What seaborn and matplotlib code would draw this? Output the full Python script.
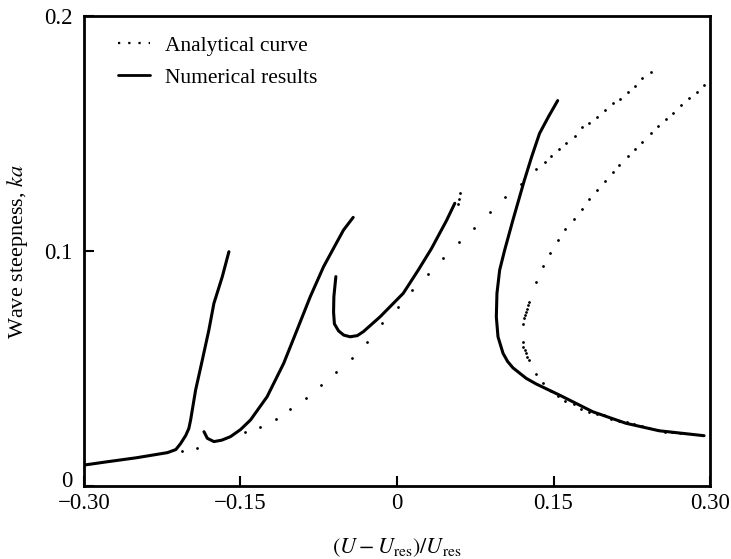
import matplotlib
matplotlib.use("Agg")
import matplotlib.pyplot as plt
import matplotlib.transforms as mtransforms
import seaborn as sns
import pandas as pd
from matplotlib.lines import Line2D

# ---- Numerical results (solid branches) ----
num1_x = [-0.300, -0.278, -0.250, -0.220, -0.212, -0.2075, -0.2025, -0.1995, -0.1978, -0.193, -0.1866, -0.1803,
          -0.1755, -0.1675, -0.1611]
num1_y = [0.0089, 0.0103, 0.0120, 0.0142, 0.0155, 0.0180, 0.0215, 0.0245, 0.0281, 0.0409, 0.0536, 0.0664,
          0.0777, 0.0890, 0.0997]

num2_x = [-0.185, -0.1818, -0.1755, -0.168, -0.1596, -0.150, -0.1404, -0.1245, -0.1086, -0.0958, -0.0831,
          -0.0704, -0.0610, -0.0513, -0.042]
num2_y = [0.0231, 0.0203, 0.0189, 0.0195, 0.0210, 0.0240, 0.0281, 0.0380, 0.0522, 0.0664, 0.0806,
          0.0933, 0.1010, 0.1089, 0.1143]

num3_x = [-0.0586, -0.0605, -0.0608, -0.0600, -0.056, -0.0510, -0.0449, -0.038, -0.0322, -0.0162, 0.006, 0.0204,
          0.033, 0.0475, 0.0554]
num3_y = [0.0891, 0.0806, 0.0740, 0.0690, 0.0660, 0.0642, 0.0635, 0.0640, 0.0657, 0.0720, 0.0820, 0.0919,
          0.1010, 0.1130, 0.1203]

num4_x = [0.154, 0.145, 0.1366, 0.129, 0.122, 0.111, 0.1032, 0.0984, 0.0958, 0.0952, 0.0968, 0.1016, 0.1060,
          0.1111, 0.1239, 0.1335, 0.1557, 0.1876, 0.2194, 0.2513, 0.2943]
num4_y = [0.164, 0.157, 0.150, 0.140, 0.130, 0.113, 0.1004, 0.0919, 0.0820, 0.0720, 0.0635, 0.0565, 0.0530,
          0.0503, 0.0458, 0.0434, 0.0387, 0.0316, 0.0267, 0.0235, 0.0214]

# ---- Analytical curve (dotted) ----
ana1_x = [-0.2057, -0.1914, -0.1459, -0.1316, -0.1159, -0.1022, -0.0869, -0.0729, -0.0583, -0.0433, -0.0284,
          -0.0146, 0.0013, 0.0146, 0.030, 0.0443, 0.0592, 0.0739, 0.0895, 0.1032, 0.1191, 0.1335, 0.1414,
          0.1478, 0.155, 0.162, 0.1707, 0.1774, 0.1844, 0.1914, 0.1994, 0.2067, 0.2137, 0.221, 0.2283,
          0.2353, 0.2433]
ana1_y = [0.0150, 0.0160, 0.0228, 0.0252, 0.0284, 0.0328, 0.0373, 0.0430, 0.0484, 0.0546, 0.0614,
          0.0692, 0.0760, 0.0834, 0.0902, 0.0971, 0.1037, 0.1100, 0.1167, 0.1229, 0.1285, 0.1349, 0.1377,
          0.1406, 0.1434, 0.1460, 0.1490, 0.1526, 0.1546, 0.1571, 0.1600, 0.1629, 0.1648, 0.1678, 0.1704,
          0.1735, 0.1760]

ana_stub_x = [0.058, 0.059, 0.0602]
ana_stub_y = [0.120, 0.122, 0.1248]

ana2_x = [0.271, 0.264, 0.257, 0.2497, 0.2417, 0.2347, 0.2274, 0.220, 0.213, 0.2051, 0.1987, 0.1914, 0.1838,
          0.1765, 0.170, 0.1615, 0.154, 0.148, 0.1398, 0.1328, 0.1261, 0.1248, 0.1239, 0.1223, 0.1207, 0.1207,
          0.1207, 0.1213, 0.1223, 0.1239, 0.1248, 0.1255, 0.1264, 0.1328, 0.1404, 0.1471, 0.1541, 0.1615,
          0.170, 0.1774, 0.1844, 0.1914, 0.1994, 0.2067, 0.2131, 0.221, 0.2283, 0.2353, 0.2433, 0.2506,
          0.2577, 0.265, 0.272, 0.280, 0.2873, 0.2943]
ana2_y = [0.0224, 0.0231, 0.0231, 0.0238, 0.0245, 0.0255, 0.0263, 0.0271, 0.0278, 0.0285, 0.0302, 0.0305, 0.0315,
          0.0328, 0.0349, 0.0363, 0.0384, 0.0406, 0.0440, 0.0477, 0.0536, 0.0550, 0.0565, 0.0579, 0.0590, 0.0614,
          0.0689, 0.0713, 0.0728, 0.0742, 0.0752, 0.0770, 0.0782, 0.0869, 0.0936, 0.0993, 0.1047, 0.1092,
          0.1135, 0.1179, 0.1220, 0.1260, 0.1298, 0.1335, 0.1365, 0.1404, 0.1434, 0.1465, 0.1503, 0.1532,
          0.1560, 0.1589, 0.1620, 0.1652, 0.1675, 0.1706]

x_ticks = [-0.30, -0.15, 0.0, 0.15, 0.30]
x_tick_labels = ["\u22120.30", "\u22120.15", "0", "0.15", "0.30"]
y_ticks = [0.0, 0.1, 0.2]
y_tick_labels = ["0", "0.1", "0.2"]
legend_labels = ["Analytical curve", "Numerical results"]

sns.set_theme(style="ticks")
plt.rcParams["font.family"] = ["Liberation Serif", "DejaVu Serif"]
plt.rcParams["mathtext.fontset"] = "stix"
plt.rcParams["text.color"] = "black"
plt.rcParams["axes.labelcolor"] = "black"

fig = plt.figure(figsize=(7.31, 5.59), dpi=100)
ax = fig.add_axes([84 / 731, 1 - 486 / 559, (710 - 84) / 731, (486 - 16) / 559])

for bx, by in [(num1_x, num1_y), (num2_x, num2_y), (num3_x, num3_y), (num4_x, num4_y)]:
    df = pd.DataFrame({"x": bx, "y": by})
    sns.lineplot(data=df, x="x", y="y", sort=False, estimator=None, color="black", lw=2.2, ax=ax)

for bx, by in [(ana1_x, ana1_y), (ana_stub_x, ana_stub_y), (ana2_x, ana2_y)]:
    df = pd.DataFrame({"x": bx, "y": by})
    sns.scatterplot(data=df, x="x", y="y", color="black", s=4, marker="o", linewidth=0, ax=ax)

ax.set_xlim(-0.30, 0.30)
ax.set_ylim(0.0, 0.2)
ax.set_xticks(x_ticks)
ax.set_xticklabels(x_tick_labels)
ax.set_yticks(y_ticks)
ax.set_yticklabels(y_tick_labels)
ax.tick_params(direction="in", length=7, width=1.5, labelsize=16.5, colors="black", labelcolor="black")
ax.tick_params(axis="x", pad=5)
ax.tick_params(axis="y", pad=8)
for s in ax.spines.values():
    s.set_linewidth(2)
    s.set_color("black")

# lift the "0" label on the y axis a little, as in the original
zero_lbl = ax.get_yticklabels()[0]
zero_lbl.set_transform(zero_lbl.get_transform() + mtransforms.ScaledTranslation(0, 5 / 72, fig.dpi_scale_trans))

ax.set_xlabel(r"$(U - U_{\mathrm{res}})/U_{\mathrm{res}}$", fontsize=16, labelpad=16, color="black")
ax.set_ylabel(r"Wave steepness, $ka$", fontsize=16, labelpad=10, color="black")

handles = [Line2D([], [], color="black", ls=(0, (1, 3.6)), lw=1.6),
           Line2D([], [], color="black", lw=2)]
leg = ax.legend(handles, legend_labels, loc="upper left", frameon=False,
                fontsize=15.5, handlelength=1.5, handletextpad=0.7, borderaxespad=0.55,
                labelspacing=0.55, borderpad=0.5)
for t in leg.get_texts():
    t.set_color("black")
leg.set_bbox_to_anchor((0.0176, 1.006), transform=ax.transAxes)

fig.savefig("out.png", dpi=100)
